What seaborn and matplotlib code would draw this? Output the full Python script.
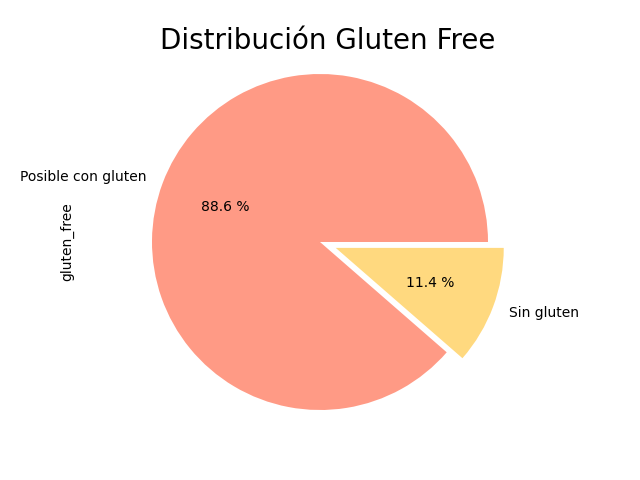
import matplotlib
matplotlib.use("Agg")
import matplotlib.pyplot as plt
import seaborn as sns
import pandas as pd

categories = ["Posible con gluten", "Sin gluten"]
percentages = [88.6, 11.4]
colors = ["#FF9A85", "#FFD97F"]

s = pd.Series(percentages, index=categories, name="gluten_free")

fig = plt.figure(figsize=(6.4, 4.8), dpi=100)
ax = fig.add_axes([80 / 640, 53.6 / 480, 480 / 640, 368.8 / 480])
ax.pie(s.values, labels=s.index, colors=colors, autopct="%.1f %%",
       explode=[0, 0.1])
ax.set_aspect("auto")
ax.set_xlim(-1.4286, 1.4286)
ax.set_ylim(-1.0976, 1.0976)
ax.set_ylabel("gluten_free")
ax.set_title("Distribución Gluten Free", fontsize=20, x=0.5 + 8 / 480)
fig.savefig("out.png", dpi=100)
